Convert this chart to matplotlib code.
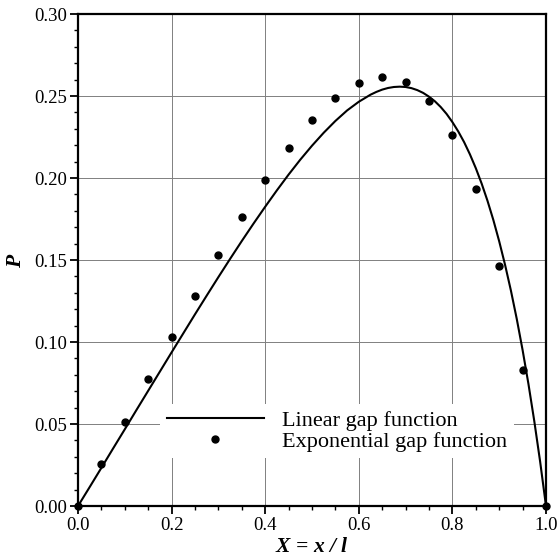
import matplotlib
matplotlib.use("Agg")
import matplotlib.pyplot as plt
from matplotlib.ticker import MultipleLocator, FormatStrFormatter

plt.rcParams['font.family'] = ['Liberation Serif', 'DejaVu Serif']
plt.rcParams['mathtext.fontset'] = 'custom'
plt.rcParams['mathtext.rm'] = 'Liberation Serif'
plt.rcParams['mathtext.it'] = 'Liberation Serif:italic'
plt.rcParams['mathtext.bf'] = 'Liberation Serif:bold:italic'

# linear gap function (curve)
x_lin = [0.0, 0.025, 0.05, 0.075, 0.10, 0.125, 0.15, 0.175, 0.20, 0.225,
         0.25, 0.275, 0.30, 0.325, 0.35, 0.375, 0.40, 0.425, 0.45, 0.475,
         0.50, 0.525, 0.55, 0.575, 0.60, 0.625, 0.6375, 0.65, 0.6625, 0.675,
         0.6875, 0.70, 0.7125, 0.725, 0.7375, 0.75, 0.7625, 0.775, 0.7875,
         0.80, 0.8125, 0.825, 0.8375, 0.85, 0.8625, 0.875, 0.8875, 0.90,
         0.9125, 0.925, 0.9375, 0.95, 0.9625, 0.975, 0.9875, 1.0]
p_lin = [0.0, 0.0116, 0.0233, 0.0351, 0.0468, 0.0586, 0.0703, 0.0820, 0.0937,
         0.1053, 0.1169, 0.1283, 0.1396, 0.1507, 0.1616, 0.1722, 0.1825,
         0.1925, 0.2021, 0.2112, 0.2197, 0.2276, 0.2348, 0.2412, 0.2465,
         0.2508, 0.2525, 0.2539, 0.2549, 0.2555, 0.2557, 0.2555, 0.2548,
         0.2536, 0.2519, 0.2496, 0.2468, 0.2433, 0.2391, 0.2341, 0.2284,
         0.2219, 0.2144, 0.2060, 0.1966, 0.1861, 0.1744, 0.1614, 0.1471,
         0.1314, 0.1141, 0.0951, 0.0744, 0.0517, 0.0270, 0.0]

# exponential gap function (dots)
x_exp = [0.0, 0.05, 0.10, 0.15, 0.20, 0.25, 0.30, 0.35, 0.40, 0.45, 0.50,
         0.55, 0.60, 0.65, 0.70, 0.75, 0.80, 0.85, 0.90, 0.95, 1.0]
p_exp = [0.0, 0.0258, 0.0512, 0.0772, 0.1029, 0.1282, 0.1529, 0.1763, 0.1985,
         0.2183, 0.2354, 0.2490, 0.2580, 0.2618, 0.2587, 0.2472, 0.2260,
         0.1933, 0.1463, 0.0830, 0.0]

fig = plt.figure(figsize=(5.6, 5.56), dpi=100)
ax = fig.add_axes([0.1393, 0.0899, 0.8357, 0.8849])

ax.plot(x_lin, p_lin, color="black", lw=1.5, label="Linear gap function",
        solid_joinstyle="round", zorder=3)
ax.plot(x_exp, p_exp, ls="none", marker="o", ms=5, color="black",
        label="Exponential gap function", clip_on=False, zorder=4)

ax.set_xlim(0, 1)
ax.set_ylim(0, 0.30)
ax.xaxis.set_major_locator(MultipleLocator(0.2))
ax.xaxis.set_minor_locator(MultipleLocator(0.05))
ax.yaxis.set_major_locator(MultipleLocator(0.05))
ax.yaxis.set_minor_locator(MultipleLocator(0.01))
ax.xaxis.set_major_formatter(FormatStrFormatter("%.1f"))
ax.yaxis.set_major_formatter(FormatStrFormatter("%.2f"))

ax.grid(True, which="major", color="#808080", lw=0.7, zorder=0)
ax.set_axisbelow(True)
for s in ax.spines.values():
    s.set_linewidth(1.6)

ax.tick_params(which="major", direction="out", length=6, width=1.3, labelsize=13.5, pad=2)
ax.tick_params(which="minor", direction="out", length=3, width=1.0)

ax.set_xlabel(r"$\mathbf{X\,=\,x\ /\ l}$", fontsize=15.5)
ax.set_ylabel(r"$\mathbf{P}$", fontsize=15.5)
ax.xaxis.set_label_coords(0.5, -0.066)
ax.yaxis.set_label_coords(-0.112, 0.5)

leg = ax.legend(loc="lower left", bbox_to_anchor=(0.175, 0.097), borderaxespad=0,
                fontsize=16, frameon=True, fancybox=False, framealpha=1,
                edgecolor="none", handlelength=4.4, handletextpad=0.8,
                labelspacing=0.0, borderpad=0.3, numpoints=1)

fig.savefig("out.png", dpi=100)
